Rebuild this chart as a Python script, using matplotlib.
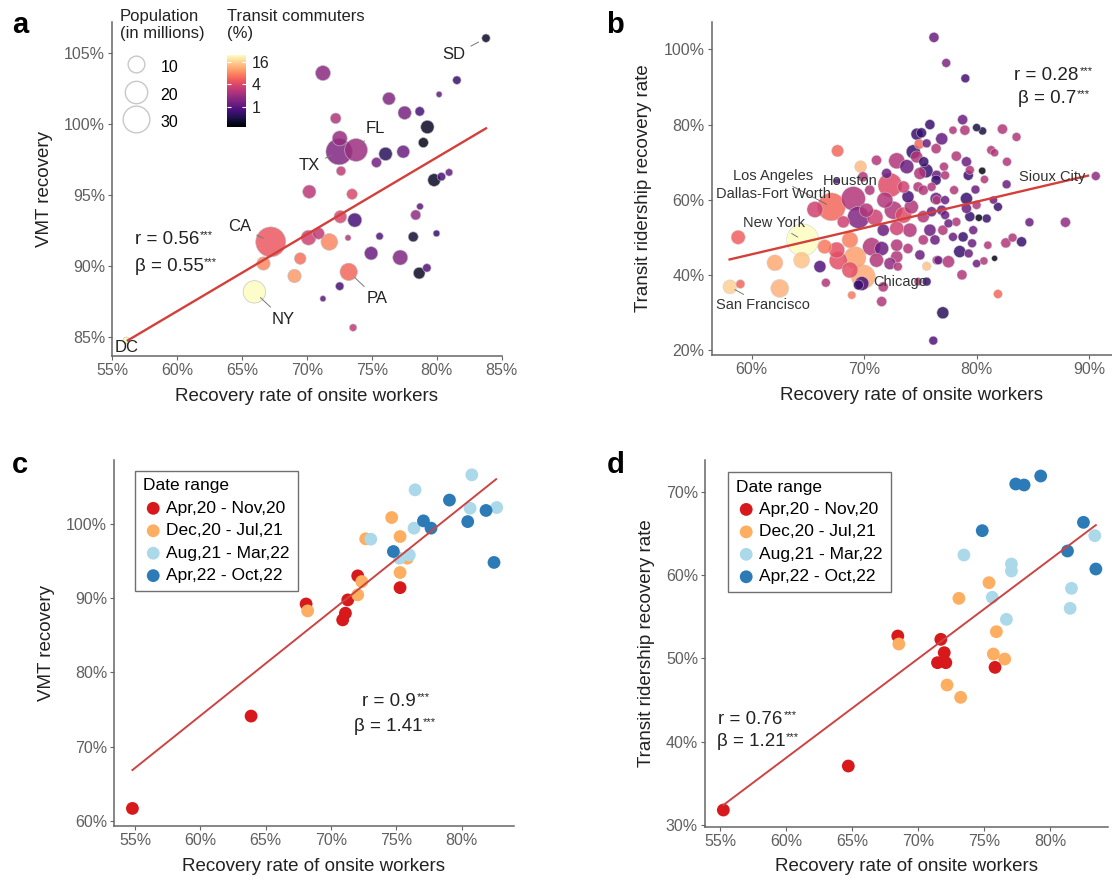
import numpy as np
import matplotlib.pyplot as plt
from matplotlib.colors import LogNorm
from matplotlib.lines import Line2D
import matplotlib.cm as cm

plt.rcParams['font.family'] = ['Liberation Sans', 'DejaVu Sans']

W, H, DPI = 1112, 882, 100

# ---- panel a: states ----
a_x = [83.79, 81.55, 80.18, 71.24, 76.32, 77.53, 78.69, 79.28, 78.97, 72.22,
       72.53, 72.48, 73.79, 76.06, 75.36, 77.42, 72.63, 79.80, 80.36, 80.95,
       70.19, 73.48, 72.58, 73.69, 78.38, 78.71, 67.22, 70.13, 70.90, 71.73,
       73.17, 75.60, 78.19, 79.98, 74.95, 77.19, 66.66, 69.49, 69.05, 73.22,
       78.65, 79.24, 72.53, 71.24, 65.96, 73.56, 56.10]
a_y = [106.06, 103.1, 102.1, 103.6, 101.8, 100.8, 100.9, 99.8, 98.7, 100.41,
       99.0, 98.06, 98.18, 97.9, 97.3, 98.06, 96.7, 96.06, 96.3, 96.6,
       95.24, 95.07, 93.47, 93.24, 93.6, 94.2, 91.7, 92.0, 92.3, 91.7,
       91.99, 92.1, 92.06, 92.3, 90.9, 90.6, 90.18, 90.53, 89.3, 89.59,
       89.5, 89.87, 88.58, 87.7, 88.18, 85.66, 84.76]
a_pop = [1.47, 1.47, 0.45, 7.6, 4.93, 5.63, 2.09, 5.63, 2.56, 3.08,
         7.6, 29, 21, 5.63, 2.56, 4.93, 2.09, 4.93, 1.47, 0.96,
         5.63, 3.08, 4.93, 6.4, 2.56, 0.69, 39, 7.6, 3.95, 9.9,
         0.45, 0.96, 2.56, 0.69, 5.63, 7.6, 5.63, 3.95, 5.63, 11,
         3.95, 1.47, 1.47, 0.45, 20, 0.96, 0.7]
a_transit = [0.4, 0.7, 1.1, 1.7, 1.5, 1.4, 0.8, 0.4, 0.35, 2.5,
             1.9, 1.5, 2.0, 0.6, 1.3, 1.2, 3.0, 0.4, 0.8, 1.1,
             2.8, 4.0, 3.8, 0.8, 1.8, 1.0, 5.0, 3.5, 3.0, 8.0,
             2.6, 0.9, 0.45, 0.7, 1.2, 1.5, 8.0, 6.5, 9.5, 6.0,
             0.4, 0.9, 0.8, 1.0, 25, 3.0, 35]
a_labels = {0: 'SD', 11: 'TX', 12: 'FL', 26: 'CA', 39: 'PA', 44: 'NY', 46: 'DC'}
a_fit = (0.542, 54.29, 56.22, 83.79)   # slope, intercept, x from, x to

# ---- panel b: metro areas ----
b_x = [67.64, 69.69, 67.56, 65.63, 67.1, 69.04, 69.5, 72.3, 71.85, 70.96,
       70.2, 68.15, 58.8, 64.53, 66.5, 67.56, 68.74, 67.7, 69.19, 69.93,
       68.74, 62.07, 64.44, 66.07, 58.07, 59.0, 62.5, 66.6, 68.9, 69.8,
       70.67, 71.56, 71.1, 72.3, 73.0, 71.7, 71.56, 72.9, 73.9, 74.96,
       75.56, 74.07, 72.9, 71.7, 73.5, 72.6, 74.2, 75.26, 75.85, 76.3,
       75.26, 73.9, 73.5, 75.26, 74.96, 76.4, 76.4, 76.9, 74.67, 71.1,
       72.0, 73.8, 75.3, 69.9, 70.5, 77.0, 76.6, 72.9, 69.5, 77.0,
       75.56, 74.8,
       78.76, 75.85, 77.9, 78.96, 80.0, 80.53, 82.3, 83.55, 74.7, 75.1,
       76.9, 74.9, 75.56, 81.3, 81.6, 76.4, 74.37, 72.9, 78.2, 79.1,
       82.7, 80.5, 79.4, 75.5, 76.45, 77.2, 79.26, 80.7, 82.67, 90.6,
       79.9, 78.0, 76.0, 74.8, 76.45, 77.2, 79.1, 80.0, 81.5, 81.9,
       84.7, 87.9, 80.2, 80.9, 79.1, 79.4, 78.2, 77.2, 76.0, 77.5,
       79.7, 78.8, 77.9, 79.6, 81.0, 82.6, 83.2, 84.0, 78.5, 79.3,
       77.5, 80.0, 80.65, 81.6, 76.45, 78.7, 81.9, 77.1,
       76.21, 77.3, 79.0, 76.15]
b_y = [73.0, 68.8, 65.0, 57.4, 58.1, 60.3, 55.3, 63.9, 59.9, 55.3,
       57.2, 54.1, 50.0, 49.3, 47.5, 46.6, 49.3, 43.8, 44.6, 39.5,
       41.3, 43.2, 43.9, 42.2, 36.8, 37.55, 36.4, 37.9, 34.6, 37.7,
       47.5, 47.0, 43.9, 43.0, 42.2, 36.8, 32.9, 47.9, 47.0, 45.3,
       42.3, 51.9, 52.4, 51.9, 55.9, 57.2, 58.1, 55.5, 51.9, 49.3,
       49.3, 60.8, 63.4, 62.55, 67.0, 65.2, 60.3, 57.2, 71.4, 70.5,
       67.0, 68.8, 70.1, 66.1, 62.55, 51.9, 43.9, 44.8, 37.3, 29.9,
       38.2, 38.2,
       81.3, 80.0, 78.5, 78.5, 79.2, 78.3, 78.8, 76.7, 77.45, 77.8,
       76.2, 74.8, 75.0, 73.2, 72.5, 73.6, 72.75, 70.35, 71.6, 70.1,
       70.1, 67.7, 67.9, 67.7, 66.5, 66.5, 66.5, 65.4, 64.1, 66.3,
       62.7, 62.55, 63.4, 63.4, 59.9, 59.9, 60.3, 58.6, 59.9, 58.1,
       54.0, 54.0, 55.2, 55.0, 57.7, 55.5, 54.1, 55.9, 56.8, 53.7,
       51.9, 50.1, 50.1, 48.4, 47.9, 48.5, 49.9, 48.8, 46.2, 45.7,
       43.5, 43.0, 43.7, 44.4, 43.9, 40.0, 34.9, 68.8,
       103.2, 96.4, 92.3, 22.5]
b_pop = [2.56, 2.56, 0.19, 5.63, 22, 15.4, 12.5, 15.4, 5.63, 5.63,
         3.95, 2.56, 3.95, 30, 3.95, 5.63, 5.63, 7.6, 12.5, 15.4,
         5.63, 5.63, 5.63, 2.56, 3.95, 0.96, 7.6, 0.96, 0.69, 3.95,
         7.6, 3.95, 3.95, 2.56, 0.96, 1.47, 1.47, 2.56, 1.47, 1.47,
         0.96, 3.95, 3.95, 2.56, 5.63, 7.6, 3.95, 2.56, 2.56, 1.47,
         1.47, 2.56, 2.56, 1.47, 2.56, 1.47, 2.56, 1.47, 2.56, 1.47,
         1.47, 3.95, 1.47, 1.47, 1.47, 1.47, 0.96, 2.56, 1.47, 2.56,
         0.96, 0.69,
         1.47, 1.47, 0.69, 1.47, 0.69, 0.69, 1.47, 0.96, 2.56, 1.47,
         2.56, 1.47, 0.96, 0.96, 0.69, 1.47, 3.95, 5.63, 1.47, 1.47,
         0.96, 0.45, 0.96, 3.95, 1.47, 0.96, 1.47, 0.69, 0.96, 0.96,
         0.96, 0.96, 0.96, 1.47, 0.96, 0.96, 2.56, 0.96, 0.69, 0.96,
         0.96, 1.47, 0.45, 0.96, 1.47, 1.47, 0.96, 0.96, 1.47, 0.96,
         0.96, 1.47, 0.96, 0.96, 0.69, 1.47, 0.96, 1.47, 2.56, 0.96,
         2.56, 0.69, 0.69, 0.19, 0.96, 1.47, 0.96, 0.96,
         1.47, 0.96, 0.96, 0.96]
b_transit = [6, 13, 0.8, 3.5, 6, 2.6, 1.5, 4.2, 2.6, 3.5,
             2.6, 3.5, 5.5, 25, 7, 4.5, 7.5, 4.5, 10, 11,
             4.5, 11, 14, 0.9, 16, 6, 12, 2.6, 7, 0.8,
             2.6, 1.2, 2.6, 1.8, 2.6, 2.6, 2.6, 2.6, 2.6, 1.2,
             14, 2.6, 3.5, 1.2, 4.2, 2.6, 2.6, 2.6, 1.2, 1.2,
             2.6, 0.8, 3.5, 2.6, 2.6, 0.7, 1.2, 1.2, 2.6, 2.6,
             1.2, 1.2, 0.7, 2.6, 2.6, 2.6, 1.2, 2.6, 0.7, 0.6,
             0.7, 2.6,
             1.2, 0.7, 2.6, 2.6, 0.5, 0.5, 2.6, 2.6, 0.7, 0.7,
             1.1, 6, 1.2, 2.6, 2.6, 2.6, 0.7, 2.6, 2.6, 1.2,
             2.6, 0.35, 2.6, 0.7, 1.2, 2.6, 0.7, 2.6, 1.2, 1.8,
             1.2, 2.6, 2.6, 2.6, 2.6, 1.2, 0.7, 2.6, 1.2, 0.7,
             1.2, 1.8, 0.35, 0.7, 1.2, 0.7, 2.6, 1.2, 1.2, 1.2,
             1.2, 0.7, 1.2, 1.2, 2.6, 2.6, 2.6, 0.7, 0.7, 1.2,
             2.6, 1.2, 2.6, 0.35, 2.6, 2.6, 6, 2.6,
             1.2, 1.5, 0.8, 0.9]
b_labels = {4: 'Los Angeles', 7: 'Houston', 6: 'Dallas-Fort Worth', 13: 'New York',
            19: 'Chicago', 24: 'San Francisco', 101: 'Sioux City'}
b_fit = (0.70, 3.47, 58.04, 89.9)

# ---- panels c, d: national series by period ----
periods = ['Apr,20 - Nov,20', 'Dec,20 - Jul,21', 'Aug,21 - Mar,22', 'Apr,22 - Oct,22']
period_colors = ['#d7191c', '#fdae61', '#abd9e9', '#2c7bb6']

c_x = [[54.8, 63.88, 68.09, 70.89, 71.1, 71.28, 72.04, 75.28],
       [68.21, 72.04, 72.35, 72.65, 74.64, 75.28, 75.28, 75.84],
       [73.04, 76.43, 76.35, 75.23, 75.99, 80.77, 80.64, 82.68],
       [74.77, 77.07, 77.65, 79.06, 80.46, 81.86, 82.47]]
c_y = [[61.66, 74.1, 89.2, 87.06, 87.96, 89.75, 92.99, 91.4],
       [88.27, 90.43, 92.22, 97.98, 100.85, 98.29, 93.44, 95.37],
       [97.93, 104.58, 99.42, 95.37, 95.8, 106.6, 102.1, 102.2],
       [96.27, 100.4, 99.42, 103.2, 100.3, 101.8, 94.8]]
c_fit = (1.408, -10.33, 54.8, 82.63)

d_x = [[55.25, 64.72, 68.47, 71.73, 71.99, 71.48, 72.11, 75.84],
       [68.55, 72.2, 73.23, 73.1, 75.38, 75.94, 75.71, 76.57],
       [73.48, 75.63, 77.08, 77.08, 76.7, 81.63, 81.53, 83.4],
       [74.87, 77.41, 78.04, 79.3, 82.54, 81.33, 83.48]]
d_y = [[31.8, 37.08, 52.68, 52.28, 50.68, 49.48, 49.48, 48.92],
       [51.72, 46.8, 45.32, 57.2, 59.08, 53.2, 50.52, 49.92],
       [62.4, 57.32, 61.32, 60.48, 54.68, 58.4, 56.0, 64.72],
       [65.32, 70.92, 70.8, 71.88, 66.32, 62.88, 60.72]]
d_fit = (1.19, -33.35, 55.25, 83.48)

pop_legend = [10, 20, 30]
transit_ticks = [1, 4, 16]

TICK_C = '#5f5f5f'
SPINE_C = '#666666'
TXT_C = '#222222'
FIT_C = '#d43f3a'

fig = plt.figure(figsize=(W / DPI, H / DPI), dpi=DPI)


def px_axes(l, t, r, b):
    return fig.add_axes([l / W, 1 - b / H, (r - l) / W, (b - t) / H])


def style(ax, xlim, ylim, xticks, yticks, ylabel):
    ax.set_xlim(*xlim)
    ax.set_ylim(*ylim)
    ax.set_xticks(xticks)
    ax.set_yticks(yticks)
    ax.set_xticklabels([f'{v}%' for v in xticks])
    ax.set_yticklabels([f'{v}%' for v in yticks])
    for s in ['top', 'right']:
        ax.spines[s].set_visible(False)
    for s in ['left', 'bottom']:
        ax.spines[s].set_color(SPINE_C)
        ax.spines[s].set_linewidth(1.1)
    ax.tick_params(colors=SPINE_C, labelcolor=TICK_C, labelsize=11.5, length=3, width=0.8, pad=2)
    ax.set_xlabel('Recovery rate of onsite workers', fontsize=13.5, color=TXT_C, labelpad=7)
    ax.set_ylabel(ylabel, fontsize=13.5, color=TXT_C, labelpad=8)


def size_of(pop, scale=1.0):
    d_px = (3.1 + 4.31 * np.sqrt(np.asarray(pop, dtype=float))) * scale
    return (d_px * 72 / DPI) ** 2


def stat(ax, x, y, txt):
    t = ax.text(x, y, txt, ha='left', va='center', fontsize=13.5, color=TXT_C)
    ax.annotate('***', xy=(1, 1), xycoords=t, xytext=(0.5, -3), textcoords='offset points',
                ha='left', va='center', fontsize=8, color=TXT_C)


norm = LogNorm(vmin=0.29, vmax=24.6, clip=True)
cmap = plt.get_cmap('magma')

# ---------------- a ----------------
ax = px_axes(112, 22, 501.7, 356)
order = np.argsort(a_pop)[::-1]
ax.scatter(np.array(a_x)[order], np.array(a_y)[order], s=size_of(np.array(a_pop)[order]),
           c=np.array(a_transit)[order], cmap=cmap, norm=norm, alpha=0.85,
           edgecolors='#bdbdbd', linewidths=0.5, zorder=2)
k, b0, x0, x1 = a_fit
xs = np.array([x0, x1])
ax.plot(xs, k * xs + b0, color=FIT_C, lw=1.7, zorder=3)
a_text_pos = {'SD': (81.34, 104.88), 'FL': (75.29, 99.7), 'TX': (70.21, 97.07), 'CA': (64.85, 92.76),
              'PA': (75.41, 87.7), 'NY': (68.2, 86.25), 'DC': (56.1, 84.29)}
for i, name in a_labels.items():
    tx, ty = a_text_pos[name]
    if name == 'DC':
        ax.text(tx, ty, name, ha='center', va='center', fontsize=12, color=TXT_C, zorder=4)
    else:
        ax.annotate(name, xy=(a_x[i], a_y[i]), xytext=(tx, ty), ha='center', va='center',
                    fontsize=12, color=TXT_C, zorder=4,
                    arrowprops=dict(arrowstyle='-', color='#777777', lw=0.7, shrinkA=2, shrinkB=6))
stat(ax, 56.74, 91.85, 'r = 0.56')
stat(ax, 56.74, 89.94, '\u03b2 = 0.55')
style(ax, (55, 85), (83.66, 107.2), [55, 60, 65, 70, 75, 80, 85], [85, 90, 95, 100, 105], 'VMT recovery')

# size legend
handles = [Line2D([], [], ls='', marker='o', markersize=(3.1 + 4.31 * np.sqrt(p)) * 72 / DPI,
                  markerfacecolor='none', markeredgecolor='#c8c8c8', markeredgewidth=1.0)
           for p in pop_legend]
fig.text(120 / W, 1 - 9 / H, 'Population\n(in millions)', ha='left', va='top', fontsize=12,
         color=TXT_C, linespacing=1.15)
fig.legend(handles, [str(p) for p in pop_legend], loc='upper left',
           bbox_to_anchor=(118 / W, 1 - 56 / H), frameon=False,
           fontsize=11.5, borderpad=0, borderaxespad=0,
           handlelength=2.2, handleheight=1.8, handletextpad=0.45, labelspacing=0.3)

# colour bar
cax = px_axes(227, 55, 246, 127)
cb = fig.colorbar(cm.ScalarMappable(norm=norm, cmap=cmap), cax=cax, ticks=transit_ticks)
cb.ax.set_yticklabels([str(t) for t in transit_ticks])
cb.ax.minorticks_off()
cb.outline.set_visible(False)
cb.ax.tick_params(direction='in', color='white', length=3, width=0.8, left=True, right=True,
                  labelsize=11.5, labelcolor=TXT_C, pad=4)
fig.text(227 / W, 1 - 9 / H, 'Transit commuters\n(%)', ha='left', va='top', fontsize=12,
         color=TXT_C, linespacing=1.15)

# ---------------- b ----------------
ax = px_axes(711.5, 22, 1112, 355)
order = np.argsort(b_pop)[::-1]
ax.scatter(np.array(b_x)[order], np.array(b_y)[order], s=size_of(np.array(b_pop)[order], 1.2),
           c=np.array(b_transit)[order], cmap=cmap, norm=norm, alpha=0.85,
           edgecolors='#d0d0d0', linewidths=0.4, zorder=2)
k, b0, x0, x1 = b_fit
xs = np.array([x0, x1])
ax.plot(xs, k * xs + b0, color=FIT_C, lw=1.7, zorder=3)
b_text_pos = {'Los Angeles': (65.45, 66.3, 'right', True), 'Houston': (66.34, 64.9, 'left', False),
              'Dallas-Fort Worth': (56.8, 61.5, 'left', False), 'New York': (59.2, 53.8, 'left', True),
              'Chicago': (70.8, 38.1, 'left', False), 'San Francisco': (56.8, 32.0, 'left', True),
              'Sioux City': (83.76, 66.0, 'left', False)}
for i, name in b_labels.items():
    tx, ty, ha, seg = b_text_pos[name]
    if seg:
        ax.annotate(name, xy=(b_x[i], b_y[i]), xytext=(tx, ty), ha=ha, va='center',
                    fontsize=10.5, color='#333333', zorder=4,
                    arrowprops=dict(arrowstyle='-', color='#666666', lw=0.6, shrinkA=1, shrinkB=4))
    else:
        ax.text(tx, ty, name, ha=ha, va='center', fontsize=10.5, color='#333333', zorder=4)
stat(ax, 83.36, 93.1, 'r = 0.28')
stat(ax, 83.67, 87.0, '\u03b2 = 0.7')
style(ax, (56.43, 92.04), (18.67, 107.3), [60, 70, 80, 90], [20, 40, 60, 80, 100],
      'Transit ridership recovery rate')

# ---------------- c & d ----------------
for xs_all, ys_all, fit, box, lims, ticks, ylab, stats, leg_anchor in [
        (c_x, c_y, c_fit, (114, 460, 514, 826), ((53.39, 84.0), (59.29, 108.6)),
         ([55, 60, 65, 70, 75, 80], [60, 70, 80, 90, 100]), 'VMT recovery',
         (72.36, 71.72, 76.05, 72.7, '0.9', '1.41'), (0.0525, 0.971)),
        (d_x, d_y, d_fit, (705, 460, 1108, 826.7), ((53.86, 84.4), (29.8, 73.8)),
         ([55, 60, 65, 70, 75, 80], [30, 40, 50, 60, 70]), 'Transit ridership recovery rate',
         (54.87, 54.75, 42.7, 40.0, '0.76', '1.21'), (0.057, 0.968))]:
    ax = px_axes(*box)
    for g in range(4):
        ax.scatter(xs_all[g], ys_all[g], s=85, color=period_colors[g], label=periods[g],
                   edgecolors='none', zorder=2)
    k, b0, x0, x1 = fit
    xl = np.array([x0, x1])
    ax.plot(xl, k * xl + b0, color='#cc4444', lw=1.4, zorder=3)
    rx, bx, ry, by, r, beta = stats
    stat(ax, rx, ry, f'r = {r}')
    stat(ax, bx, by, f'\u03b2 = {beta}')
    style(ax, lims[0], lims[1], ticks[0], ticks[1], ylab)
    leg = ax.legend(title='Date range', loc='upper left', bbox_to_anchor=leg_anchor, fontsize=12.5,
                    title_fontsize=12.5, alignment='left', frameon=True, fancybox=False,
                    edgecolor='#707070', framealpha=1, handletextpad=0.15, labelspacing=0.42,
                    borderpad=0.45, borderaxespad=0, handlelength=1.2)
    leg.get_frame().set_linewidth(1.0)

# panel letters
for letter, (lx, ly) in {'a': (12, 33), 'b': (606, 33), 'c': (12, 473), 'd': (607, 473)}.items():
    fig.text(lx / W, 1 - ly / H, letter, fontsize=21, fontweight='bold', ha='left', va='baseline')

fig.savefig('out.png', dpi=DPI)
